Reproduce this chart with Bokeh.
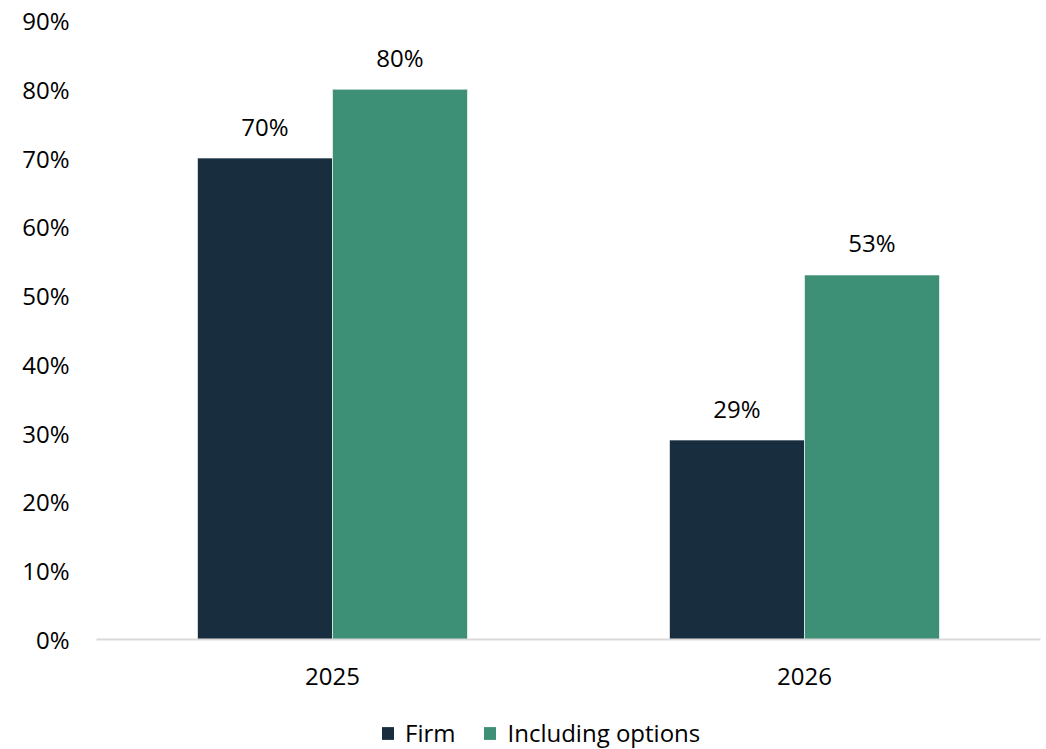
from bokeh.plotting import figure
from bokeh.layouts import column
from bokeh.models import ColumnDataSource, FactorRange, Range1d, NumeralTickFormatter, Legend, LegendItem
from bokeh.transform import dodge
from bokeh.core.properties import value
from bokeh.embed import file_html
from bokeh.resources import INLINE

years = ["2025", "2026"]
firm = [0.70, 0.29]
including_options = [0.80, 0.53]
firm_labels = ["70%", "29%"]
options_labels = ["80%", "53%"]
series_names = ["Firm", "Including options"]
y_ticks = [0.0, 0.1, 0.2, 0.3, 0.4, 0.5, 0.6, 0.7, 0.8, 0.9]

FONT = "Open Sans"
FS = "24px"
DARK = "#182d3d"
GREEN = "#3d8f76"

src = ColumnDataSource(dict(year=years, firm=firm, opt=including_options,
                            firm_lab=firm_labels, opt_lab=options_labels))

p = figure(x_range=FactorRange(*years), y_range=Range1d(0, 0.9),
           width=1042, height=710, output_backend="svg", toolbar_location=None,
           min_border_left=96, min_border_right=2, min_border_top=20, min_border_bottom=71)
p.outline_line_color = None
p.background_fill_color = "white"
p.border_fill_color = "white"
p.xgrid.grid_line_color = None
p.ygrid.grid_line_color = None

bw = 0.286
r1 = p.vbar(x=dodge("year", -bw / 2, range=p.x_range), top="firm", width=bw, source=src,
            fill_color=DARK, line_color="white", line_width=0.6)
r2 = p.vbar(x=dodge("year", bw / 2, range=p.x_range), top="opt", width=bw, source=src,
            fill_color=GREEN, line_color="white", line_width=0.6)

p.text(x=dodge("year", -bw / 2, range=p.x_range), y="firm", text="firm_lab", source=src,
       text_align="center", text_baseline="alphabetic", y_offset=-32,
       text_font=value(FONT), text_font_size=FS, text_color="#000000")
p.text(x=dodge("year", bw / 2, range=p.x_range), y="opt", text="opt_lab", source=src,
       text_align="center", text_baseline="alphabetic", y_offset=-32,
       text_font=value(FONT), text_font_size=FS, text_color="#000000")

p.yaxis.ticker = y_ticks
p.yaxis.formatter = NumeralTickFormatter(format="0%")
p.yaxis.axis_line_color = None
p.yaxis.major_tick_line_color = None
p.yaxis.minor_tick_line_color = None
p.yaxis.major_label_standoff = 21
p.yaxis.major_label_text_font = FONT
p.yaxis.major_label_text_font_size = FS
p.yaxis.major_label_text_color = "#000000"

p.xaxis.axis_line_color = "#d9d9d9"
p.xaxis.axis_line_width = 2
p.xaxis.major_tick_line_color = None
p.xaxis.minor_tick_line_color = None
p.xaxis.major_label_standoff = 22
p.xaxis.major_label_text_font = FONT
p.xaxis.major_label_text_font_size = FS
p.xaxis.major_label_text_color = "#000000"

# legend strip below the chart
lg = figure(x_range=Range1d(0, 1), y_range=Range1d(0, 1), width=1042, height=39,
            output_backend="svg", toolbar_location=None,
            min_border_left=0, min_border_right=0, min_border_top=0, min_border_bottom=0)
lg.axis.visible = False
lg.grid.visible = False
lg.outline_line_color = None
d1 = lg.vbar(x=[-5], top=[0], width=0.1, fill_color=DARK, line_color=None)
d2 = lg.vbar(x=[-5], top=[0], width=0.1, fill_color=GREEN, line_color=None)
legend = Legend(items=[LegendItem(label=series_names[0], renderers=[d1]),
                       LegendItem(label=series_names[1], renderers=[d2])],
                orientation="horizontal", location=(284, 0),
                label_text_font=FONT, label_text_font_size=FS, label_text_color="#000000",
                glyph_width=15, glyph_height=16, label_standoff=10, spacing=27,
                border_line_color=None, background_fill_alpha=0, margin=0, padding=0)
lg.add_layout(legend, "center")

layout = column(p, lg, spacing=0)
open("out.html", "w").write(file_html(layout, INLINE))
